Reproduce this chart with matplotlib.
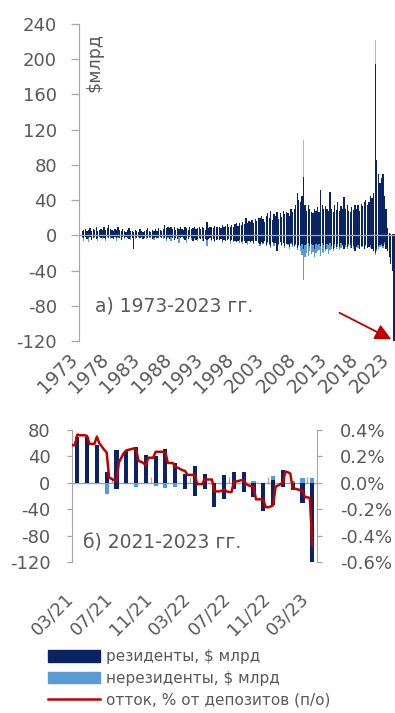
import numpy as np
import matplotlib.pyplot as plt
import matplotlib.transforms as mtransforms
from matplotlib.patches import Patch
from matplotlib.lines import Line2D

plt.rcParams['font.family'] = ['DejaVu Sans']
plt.rcParams['axes.unicode_minus'] = False

NAVY = '#0a2463'
LIGHT = '#5b9bd5'
PALE = '#aab6cf'
RED = '#c00000'
GREY = '#a6a6a6'
TXT = '#595959'

# --- panel a: deposit flows, $bn, quarterly extremes of weekly data 1973Q1..2023Q1
res_hi = [
    5, 6, 7, 5,  6, 8, 5, 7,  6, 9, 5, 6,  7, 6, 10, 6,  8, 12, 7, 6,      # 1973-77
    5, 7, 6, 9,  6, 5, 7, 5,  4, 6, 8, 5,  5, 4, 6, 5,  4, 7, 5, 4,        # 1978-82
    5, 6, 8, 5,  4, 6, 5, 7,  5, 8, 6, 5,  7, 12, 8, 9,  8, 10, 7, 9,      # 1983-87
    6, 8, 7, 9,  7, 6, 9, 8,  6, 10, 7, 8,  9, 7, 8, 10,  7, 9, 8, 6,      # 1988-92
    15, 8, 10, 9,  8, 11, 9, 10,  10, 8, 12, 9,  11, 13, 10, 9,  12, 10, 13, 14,  # 1993-97
    11, 14, 12, 15,  13, 20, 14, 16,  15, 17, 14, 18,  16, 20, 20, 22,  18, 15, 22, 25,  # 1998-02
    20, 28, 17, 24,  22, 26, 19, 25,  21, 28, 24, 26,  25, 22, 30, 27,  30, 35, 48, 40,  # 2003-07
    38, 45, 66, 35,  28, 35, 30, 26,  25, 30, 28, 32,  27, 51, 35, 30,  33, 30, 28, 49,  # 2008-12
    30, 27, 34, 29,  38, 28, 33, 30,  44, 30, 35, 28,  27, 32, 29, 35,  30, 34, 28, 36,  # 2013-17
    33, 38, 40, 35,  38, 45, 42, 48,  195, 85, 70, 60,  65, 70, 45, 30,  8, 3, 2, 2,     # 2018-22
    2,                                                                                    # 2023
]
res_lo = [
    -2, -3, -2, -4,  -3, -2, -5, -3,  -2, -4, -3, -2,  -3, -2, -3, -4,  -2, -3, -2, -3,
    -4, -2, -3, -2,  -3, -5, -2, -3,  -2, -3, -4, -2,  -3, -15, -2, -3,  -2, -3, -2, -4,
    -3, -2, -3, -2,  -2, -4, -3, -2,  -3, -2, -2, -3,  -2, -3, -4, -2,  -4, -2, -3, -5,
    -3, -4, -2, -3,  -2, -3, -5, -3,  -4, -2, -3, -6,  -3, -5, -4, -3,  -4, -3, -6, -4,
    -5, -4, -3, -5,  -4, -6, -5, -4,  -5, -4, -7, -5,  -6, -5, -4, -6,  -5, -7, -6, -8,
    -6, -5, -8, -6,  -7, -9, -6, -7,  -8, -6, -9, -7,  -7, -9, -10, -8,  -9, -7, -11, -8,
    -10, -12, -8, -9,  -9, -18, -10, -8,  -11, -9, -12, -10,  -10, -13, -9, -11,  -12, -10, -14, -11,
    -12, -10, -15, -11,  -10, -9, -12, -10,  -11, -15, -10, -11,  -10, -12, -9, -11,  -15, -10, -11, -9,
    -12, -16, -10, -13,  -10, -13, -9, -11,  -16, -11, -13, -10,  -11, -14, -12, -18,  -13, -11, -15, -12,
    -12, -15, -11, -14,  -13, -11, -15, -18,  -20, -16, -12, -11,  -10, -12, -8, -15,  -18, -25, -32, -40,
    -120,
]
nonres_lo = [
    -3, -6, -2, -3,  -8, -2, -4, -3,  -3, -2, -6, -2,  -3, -4, -2, -7,  -2, -3, -4, -2,
    -3, -2, -6, -3,  -2, -3, -2, -4,  -2, -3, -2, -5,  -3, -2, -4, -2,  -2, -3, -2, -4,
    -2, -4, -2, -3,  -3, -2, -5, -2,  -2, -3, -2, -3,  -4, -2, -6, -3,  -3, -7, -2, -4,
    -3, -2, -9, -3,  -2, -4, -3, -9,  -3, -2, -5, -3,  -4, -3, -7, -3,  -3, -6, -4, -3,
    -12, -4, -3, -6,  -4, -8, -3, -5,  -5, -4, -9, -4,  -6, -5, -4, -10,  -5, -8, -6, -7,
    -6, -9, -5, -10,  -7, -6, -11, -5,  -8, -6, -10, -7,  -6, -9, -12, -7,  -10, -7, -12, -9,
    -11, -14, -8, -12,  -9, -15, -11, -8,  -12, -9, -14, -10,  -11, -15, -10, -13,  -13, -11, -17, -12,
    -18, -22, -51, -25,  -20, -24, -18, -21,  -19, -25, -20, -18,  -17, -24, -19, -20,  -18, -16, -21, -17,
    -15, -18, -14, -16,  -13, -17, -14, -12,  -16, -13, -15, -12,  -14, -12, -15, -13,  -12, -14, -11, -13,
    -13, -15, -12, -14,  -12, -14, -13, -16,  -22, -18, -15, -13,  -12, -14, -10, -15,  -12, -16, -20, -25,
    -30,
]
# single-week spikes seen as thin lines (peak of weekly values within the quarter)
spike_dates = [2001.625, 2008.625, 2020.125]
spike_top = [68, 108, 222]
spike_bottom = [-51, 0, 0]

year_ticks = list(range(1973, 2024, 5))

# --- panel b: monthly, 03/21 .. 03/23
month_labels = ['03/21', '07/21', '11/21', '03/22', '07/22', '11/22', '03/23']
res_m_hi = [70, 70, 57, 17, 50, 48, 54, 42, 40, 51, 30, 13, 26,
            14, 0, 12, 17, 17, 0, 0, 5, 19, 0, 0, 0]
res_m_lo = [0, 0, 0, 0, -9, 0, 0, 0, 0, 0, 0, -9, -20,
            -9, -36, -24, -9, -14, -21, -42, -33, -6, -11, -30, -122]
nonres_m_hi = [0, 0, 0, 0, 0, 0, 0, 0, 0, 0, 0, 0, 0,
               0, 0, 0, 0, 0, 3, 0, 10, 0, 3, 8, 8]
nonres_m_lo = [0, 0, 0, -17, 0, -2, -6, 0, -5, -8, -6, 0, 0,
               0, 0, 0, 0, 0, 0, 0, 0, 0, 0, 0, 0]
# outflow, % of deposits, read every quarter of a month from -0.5 to 24
outflow = [
    0.285, 0.285,
    0.365, 0.36, 0.36, 0.36,     0.355, 0.295, 0.295, 0.295,
    0.35, 0.30, 0.275, 0.25,     0.23, 0.04, 0.03, 0.02,
    0.01, 0.155, 0.19, 0.225,    0.245, 0.25, 0.255, 0.26,
    0.26, 0.165, 0.16, 0.15,     0.13, 0.19, 0.19, 0.19,
    0.235, 0.235, 0.235, 0.235,  0.23, 0.15, 0.15, 0.15,
    0.12, 0.115, 0.105, 0.095,   0.09, 0.06, 0.06, 0.06,
    0.06, -0.01, -0.01, -0.01,   0.025, 0.025, 0.025, 0.025,
    -0.065, -0.065, -0.065, -0.06,  -0.05, -0.065, -0.07, -0.07,
    0.01, 0.01, 0.015, 0.02,     0.02, -0.01, -0.02, -0.025,
    -0.03, -0.125, -0.125, -0.125,  -0.13, -0.185, -0.185, -0.18,
    -0.17, -0.03, -0.02, -0.01,  0.0, 0.085, 0.08, 0.07,
    -0.04, -0.045, -0.05, -0.055,  -0.06, -0.11, -0.11, -0.115,
    -0.48,
]

fig = plt.figure(figsize=(3.95, 7.13), dpi=100)

# ---------------- panel a
ax = fig.add_axes([79 / 395, 1 - 341 / 713, 316 / 395, 317 / 713])
qx = 1973 + (np.arange(len(res_hi)) + 0.5) / 4
ax.bar(spike_dates, spike_top, width=0.12, color=PALE, linewidth=0, zorder=1)
ax.bar(spike_dates, spike_bottom, width=0.12, color=PALE, linewidth=0, zorder=1)
ax.bar(qx, nonres_lo, width=0.2, color=LIGHT, linewidth=0, zorder=2)
ax.bar(qx, res_hi, width=0.2, color=NAVY, linewidth=0, zorder=3)
ax.bar(qx, res_lo, width=0.2, color=NAVY, linewidth=0, zorder=3)
ax.axhline(0, color=GREY, lw=0.9, zorder=4)
ax.set_xlim(1972.6, 2023.3)
ax.set_ylim(-120, 240)
ax.set_yticks(np.arange(-120, 241, 40))
ax.set_xticks(year_ticks)
ax.set_xticklabels([str(y) for y in year_ticks], rotation=45, ha='right', va='top')
for s in ['top', 'right', 'bottom']:
    ax.spines[s].set_visible(False)
ax.spines['left'].set_color(GREY)
ax.tick_params(axis='y', colors=GREY, labelcolor=TXT, labelsize=13,
               length=5.8, width=0.9, pad=10)
ax.tick_params(axis='x', length=0, labelcolor=TXT, labelsize=13.5, pad=6.5)
ax.text(0.05, 0.11, 'а) 1973-2023 гг.', transform=ax.transAxes, fontsize=13.5,
        color=TXT, va='center', ha='left')
ax.text(0.02, 0.97, '$млрд', transform=ax.transAxes, rotation=90, fontsize=12.5,
        color=TXT, va='top', ha='left')
ax.annotate('', xy=(2022.7, -118), xytext=(2014.4, -88),
            arrowprops=dict(arrowstyle='-|>', color=RED, lw=1.3,
                            mutation_scale=24, shrinkA=0, shrinkB=0))

# ---------------- panel b
bx = fig.add_axes([72 / 395, 1 - 562 / 713, 245 / 395, 132 / 713])
m = np.arange(len(res_m_hi))
bx.bar(m, nonres_m_hi, width=0.42, color=LIGHT, linewidth=0, zorder=2)
bx.bar(m, nonres_m_lo, width=0.42, color=LIGHT, linewidth=0, zorder=2)
bx.bar(m, res_m_hi, width=0.42, color=NAVY, linewidth=0, zorder=3)
bx.bar(m, res_m_lo, width=0.42, color=NAVY, linewidth=0, zorder=3)
bx.axhline(0, color=GREY, lw=0.9, zorder=1)
bx.set_xlim(-0.54, 24.48)
bx.set_ylim(-120, 80)
bx.set_yticks(np.arange(-120, 81, 40))
bx.set_xticks(np.arange(0, 25, 4))
bx.set_xticklabels(month_labels, rotation=45, ha='right', va='top')
shift = mtransforms.ScaledTranslation(6 / 100, 4 / 100, fig.dpi_scale_trans)
for lab in bx.get_xticklabels():
    lab.set_transform(lab.get_transform() + shift)
for s in ['top', 'right', 'bottom']:
    bx.spines[s].set_visible(False)
bx.spines['left'].set_color(GREY)
bx.tick_params(axis='y', colors=GREY, labelcolor=TXT, labelsize=13,
               length=3.6, width=0.9, pad=12)
bx.tick_params(axis='x', length=0, labelcolor=TXT, labelsize=13, pad=20)
zx = bx.secondary_xaxis(0.6)
zx.set_xticks(np.arange(3.5, 24, 4))
zx.set_xticklabels([])
zx.spines['bottom'].set_color(GREY)
zx.tick_params(colors=GREY, length=4, width=0.9, direction='out')
bx.text(0.045, 0.145, 'б) 2021-2023 гг.', transform=bx.transAxes, fontsize=13.5,
        color=TXT, va='center', ha='left')

b2 = bx.twinx()
lx = -0.5 + np.arange(len(outflow)) * 0.25
b2.plot(lx, outflow, color=RED, lw=1.8, zorder=5)
b2.set_ylim(-0.6, 0.4)
b2.set_yticks(np.arange(-0.6, 0.41, 0.2))
b2.set_yticklabels(['%.1f%%' % v for v in np.arange(-0.6, 0.41, 0.2)])
for s in ['top', 'left', 'bottom']:
    b2.spines[s].set_visible(False)
b2.spines['right'].set_color(GREY)
b2.tick_params(axis='y', colors=GREY, labelcolor=TXT, labelsize=13,
               length=3.6, width=0.9, pad=13)

handles = [Patch(color=NAVY), Patch(color=LIGHT), Line2D([], [], color=RED, lw=1.8)]
labels = ['резиденты, $ млрд', 'нерезиденты, $ млрд', 'отток, % от депозитов (п/о)']
fig.legend(handles, labels, loc='upper left', bbox_to_anchor=(48 / 395, 1 - 649 / 713),
           frameon=False, fontsize=11, labelcolor=TXT, handlelength=3.4,
           handleheight=0.8, handletextpad=0.4, labelspacing=0.45, borderpad=0,
           borderaxespad=0)

fig.savefig('out.png', dpi=100)
